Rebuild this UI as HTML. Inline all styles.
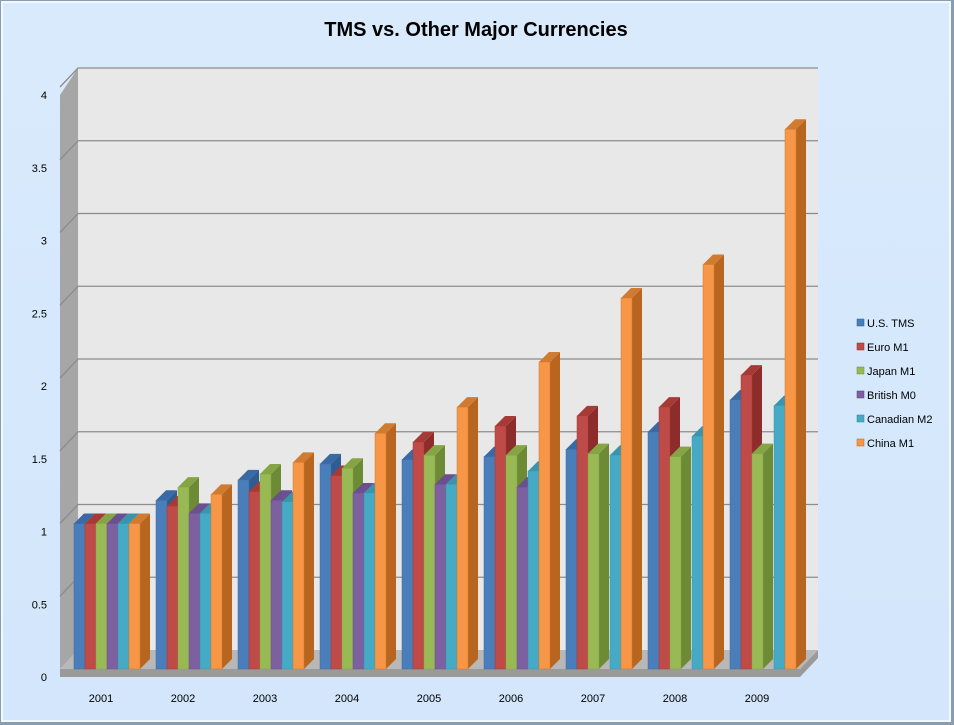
<!DOCTYPE html>
<html><head><meta charset="utf-8"><style>
body{margin:0;width:954px;height:725px;overflow:hidden;background:#fff}
svg{display:block;font-family:"Liberation Sans",sans-serif}
</style></head><body>
<svg id="chart" width="954" height="725">
<defs><linearGradient id="bg" x1="0" y1="0" x2="0" y2="1"><stop offset="0" stop-color="#d9eafc"/><stop offset="1" stop-color="#d3e6fb"/></linearGradient></defs>
<rect x="0" y="0" width="954" height="725" fill="#8a9cb0"/>
<rect x="2" y="2" width="948" height="719" fill="url(#bg)" stroke="#f2f8ff" stroke-width="2"/>
<text x="476" y="36" text-anchor="middle" font-size="20" font-weight="bold" fill="#000">TMS vs. Other Major Currencies</text>
<rect x="78" y="68" width="740" height="582" fill="#e8e8e8"/>
<polygon points="60,95 78,68 78,650 60,669" fill="#a6a6a6"/>
<polygon points="60,669 78,650 818,650 800,669" fill="#b8b8b8"/>
<polygon points="60,669 800,669 818,650 818,658 800,677 60,677" fill="#9a9a9a"/>
<g id="grid"></g><g id="bars"></g><g id="labels"></g>
<g id="legend"></g>
</svg>
<script>
const years=["2001","2002","2003","2004","2005","2006","2007","2008","2009"];
const usTMS=[1,1.16,1.30,1.41,1.44,1.46,1.51,1.63,1.85];
const euroM1=[1,1.12,1.22,1.33,1.56,1.67,1.74,1.80,2.02];
const japanM1=[1,1.25,1.34,1.38,1.47,1.47,1.48,1.46,1.48];
const britishM0=[1,1.07,1.16,1.21,1.27,1.25,null,null,null];
const canadianM2=[1,1.07,1.15,1.21,1.27,1.36,1.47,1.60,1.81];
const chinaM1=[1,1.20,1.42,1.62,1.80,2.11,2.55,2.78,3.71];
const seriesNames=["U.S. TMS","Euro M1","Japan M1","British M0","Canadian M2","China M1"];
const yTicks=["0","0.5","1","1.5","2","2.5","3","3.5","4"];
const series=[usTMS,euroM1,japanM1,britishM0,canadianM2,chinaM1];
const colors=[["#4a7ebb","#2f5d93","#3a6aa5"],["#be4b48","#8c2d2b","#a63a37"],["#98b954","#6d8a35","#85a545"],["#7d60a0","#5a4278","#6b5090"],["#46aac5","#2a8099","#3995ae"],["#f79646","#b8661f","#d07b30"]];
const NS="http://www.w3.org/2000/svg";
const yFront=v=>669-v*145.5, yBack=v=>650-v*145.5;
const xGroup=i=>101+i*82;
function mk(t,a,p){const e=document.createElementNS(NS,t);for(const k in a)e.setAttribute(k,a[k]);p.appendChild(e);return e;}
const grid=document.getElementById('grid'),bars=document.getElementById('bars'),labels=document.getElementById('labels'),legend=document.getElementById('legend');
yTicks.forEach((t,i)=>{const v=parseFloat(t);
 if(i>0){const l=mk('polyline',{points:`60,${yFront(v)} 78,${yBack(v)} 818,${yBack(v)}`,fill:'none',stroke:'#8c8c8c','stroke-width':1.3},grid);
 
 }
 const tx=mk('text',{x:47,y:yFront(v)+12,'text-anchor':'end','font-size':11,fill:'#000'},labels);tx.textContent=t;
 
 
});
const bw=11,dx=10,dy=10;
years.forEach((yr,i)=>{
 const x0=xGroup(i)-27;
 series.forEach((s,j)=>{const v=s[i];if(v==null)return;
  const x=x0+j*bw,top=yFront(v),base=669;
  const g=mk('g',{},bars);
  
  
  mk('polygon',{points:`${x+bw},${top} ${x+bw+dx},${top-dy} ${x+bw+dx},${base-dy} ${x+bw},${base}`,fill:colors[j][1]},g);
  mk('polygon',{points:`${x},${top} ${x+dx},${top-dy} ${x+bw+dx},${top-dy} ${x+bw},${top}`,fill:colors[j][2]},g);
  mk('rect',{x:x,y:top,width:bw,height:base-top,fill:colors[j][0],stroke:colors[j][2],'stroke-width':0.5},g);
 });
 const t=mk('text',{x:xGroup(i),y:702,'text-anchor':'middle','font-size':11,fill:'#000'},labels);t.textContent=yr;
 
 
});
seriesNames.forEach((n,j)=>{const y=323+j*24;
 const g=mk('g',{},legend);
 
 
 mk('rect',{x:857,y:y-4,width:7,height:7,fill:colors[j][0],stroke:colors[j][1],'stroke-width':0.5},g);
 const t=mk('text',{x:867,y:y+4,'font-size':11,fill:'#000'},g);t.textContent=n;
});
</script>
</body></html>
